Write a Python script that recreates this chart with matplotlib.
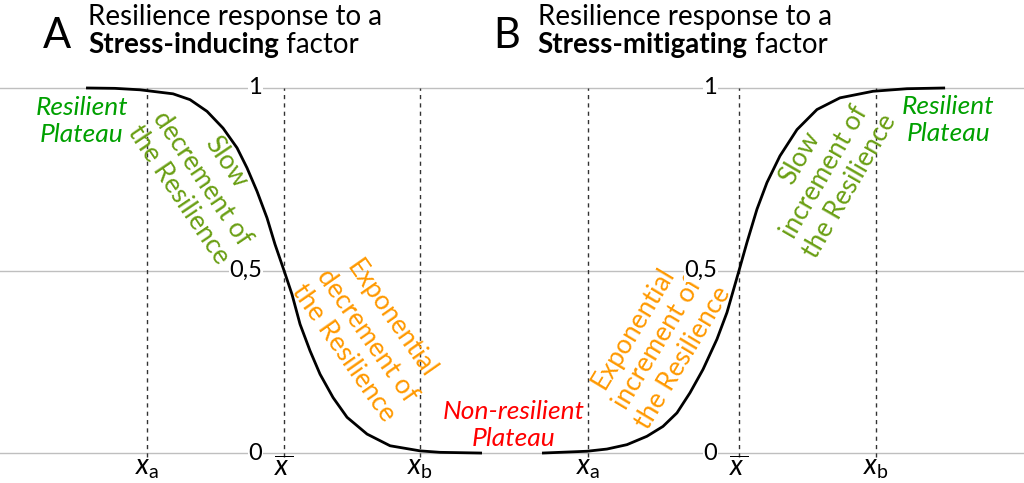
import matplotlib.pyplot as plt
import numpy as np

plt.rcParams['font.family'] = ['Lato', 'DejaVu Sans']
plt.rcParams['mathtext.fontset'] = 'custom'
plt.rcParams['mathtext.rm'] = 'Lato'
plt.rcParams['mathtext.it'] = 'Lato:italic'

x_inducing = [-1.445, -1.234, -1.051, -0.810, -0.686, -0.562, -0.445, -0.343,
              -0.270, -0.197, -0.124, -0.066, 0.0, 0.058, 0.117, 0.190,
              0.263, 0.358, 0.460, 0.606, 0.774, 0.993, 1.139, 1.445]
r_inducing = [1.0, 0.999, 0.995, 0.984, 0.968, 0.936, 0.89, 0.836,
              0.781, 0.717, 0.644, 0.572, 0.5, 0.435, 0.353, 0.28,
              0.216, 0.152, 0.098, 0.052, 0.02, 0.006, 0.002, 0.0]
marks_inducing = [-1.0, 0.0, 0.993]  # x_a, x-bar, x_b

x_mitigating = [-1.438, -1.109, -0.964, -0.818, -0.672, -0.555, -0.453, -0.358,
                -0.263, -0.161, -0.088, 0.0, 0.058, 0.131, 0.204, 0.299,
                0.423, 0.569, 0.737, 0.978, 1.226, 1.504]
r_mitigating = [0.0, 0.005, 0.011, 0.023, 0.046, 0.073, 0.11, 0.165,
                0.229, 0.312, 0.385, 0.5, 0.577, 0.668, 0.741, 0.814,
                0.886, 0.941, 0.973, 0.991, 0.998, 1.0]
marks_mitigating = [-1.102, 0.0, 1.0]

mark_labels = [r'$x_{\rm a}$', r'$\overline{x\,}$', r'$x_{\rm b}$']
yticks = [0, 0.5, 1]
ytick_labels = ['0', '0,5', '1']

GREEN = '#00A000'
OLIVE = '#6A9F14'
ORANGE = '#FF9900'
RED = '#FF0000'

fig = plt.figure(figsize=(10.24, 4.83), dpi=100)
axA = fig.add_axes([0, 0, 0.5, 1])
axB = fig.add_axes([0.5, 0, 0.5, 1])
axA.set_xlim(-2.073, 1.664)
axB.set_xlim(-1.657, 2.080)


def draw_panel(ax, x, r, marks):
    ax.set_ylim(-0.082, 1.241)
    ax.axis('off')
    for y in yticks:
        ax.axhline(y, color='#BFBFBF', lw=1, zorder=1)
    for m in marks:
        ax.plot([m, m], [-0.012, 1.0], color='#333333', lw=1, ls=(0, (3, 3)), zorder=2)
    ax.plot(x, r, color='black', lw=2, zorder=3, solid_capstyle='butt')
    for y, lab in zip(yticks, ytick_labels):
        ax.text(-0.16, y, lab, ha='right', va='center', fontsize=17,
                bbox=dict(facecolor='white', edgecolor='none', pad=0.5), zorder=4)
    for m, lab in zip(marks, mark_labels):
        ax.text(m, -0.042, lab, ha='center', va='center', fontsize=20)


draw_panel(axA, x_inducing, r_inducing, marks_inducing)
draw_panel(axB, x_mitigating, r_mitigating, marks_mitigating)

kw = dict(ha='center', va='center', multialignment='center', fontsize=19, linespacing=1.2)
axA.text(-1.474, 0.910, 'Resilient\nPlateau', color=GREEN, style='italic', **kw)
axA.text(-0.599, 0.753, 'Slow\ndecrement of\nthe Resilience', color=OLIVE,
         rotation=-56, rotation_mode='anchor', **kw)
axA.text(0.606, 0.321, 'Exponential\ndecrement of\nthe Resilience', color=ORANGE,
         rotation=-55, rotation_mode='anchor', **kw)
axA.text(1.679, 0.077, 'Non-resilient\nPlateau', color=RED, style='italic', **kw)

axB.text(-0.591, 0.301, 'Exponential\nincrement of\nthe Resilience', color=ORANGE,
         rotation=59, rotation_mode='anchor', **kw)
axB.text(0.628, 0.770, 'Slow\nincrement of\nthe Resilience', color=OLIVE,
         rotation=60, rotation_mode='anchor', **kw)
axB.text(1.526, 0.912, 'Resilient\nPlateau', color=GREEN, style='italic', **kw)

# panel headings
for letter, lx, tx, word in [('A', 0.042, 0.086, 'Stress-inducing'),
                             ('B', 0.482, 0.525, 'Stress-mitigating')]:
    fig.text(lx, 0.900, letter, fontsize=30, va='baseline')
    fig.text(tx, 0.948, 'Resilience response to a', fontsize=20, va='baseline')
    t = fig.text(tx, 0.890, word, fontsize=20, weight='bold', va='baseline')
    axA.annotate(' factor', xy=(1, 0), xycoords=t, fontsize=20,
                 va='bottom', ha='left', annotation_clip=False)

fig.savefig('out.png', dpi=100)
